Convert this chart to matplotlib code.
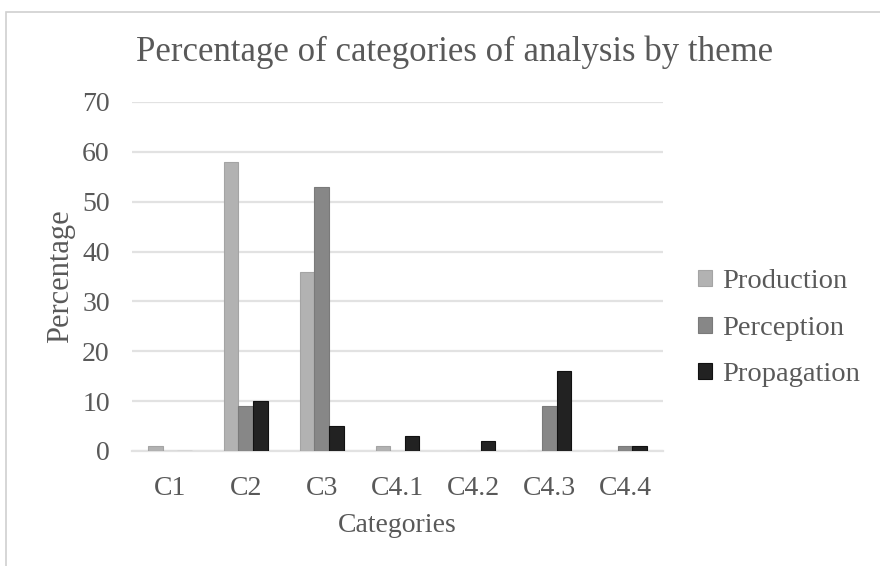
import matplotlib.pyplot as plt
import numpy as np
from matplotlib.patches import Rectangle

plt.rcParams["font.family"] = ["Liberation Serif", "DejaVu Serif"]

categories = ["C1", "C2", "C3", "C4.1", "C4.2", "C4.3", "C4.4"]
production = [1, 58, 36, 1, 0, 0, 0]
perception = [0, 9, 53, 0, 0, 9, 1]
propagation = [0, 10, 5, 3, 2, 16, 1]

series = [
    ("Production", production, "#b2b2b2", "#a4a4a4"),
    ("Perception", perception, "#878787", "#7a7a7a"),
    ("Propagation", propagation, "#222222", "#111111"),
]

text_color = "#595959"
grid_color = "#e2e2e2"

fig = plt.figure(figsize=(8.8, 5.66), dpi=100)
ax = fig.add_axes([0.15, 0.2032, 0.6034, 0.6166])

# outer chart frame
fig.patches.append(Rectangle((6 / 880, -0.05), 1.1, 1.05 - 12 / 566,
                             transform=fig.transFigure, fill=False,
                             edgecolor="#d0d0d0", linewidth=1.2))

x = np.arange(len(categories))
width = 0.193
for i, (name, vals, color, edge) in enumerate(series):
    ax.bar(x + (i - 1) * width, vals, width, color=color, edgecolor=edge,
           linewidth=0.8, label=name, zorder=3)

ax.set_xlim(-0.5, len(categories) - 0.5)
ax.set_ylim(0, 70)
ax.set_yticks(range(0, 71, 10))
ax.set_xticks(x)
ax.set_xticklabels(categories)
ax.yaxis.grid(True, color=grid_color, linewidth=1.6, zorder=0)
ax.set_axisbelow(True)

for side in ["top", "right", "left"]:
    ax.spines[side].set_visible(False)
ax.spines["bottom"].set_color(grid_color)
ax.spines["bottom"].set_linewidth(1.6)
ax.tick_params(length=0, labelsize=20, colors=text_color)
ax.tick_params(axis="x", pad=18)
ax.tick_params(axis="y", pad=16)

ax.set_xlabel("Categories", fontsize=20, color=text_color, labelpad=9)
ax.set_ylabel("Percentage", fontsize=22, color=text_color, labelpad=5)
fig.text(0.516, 0.908, "Percentage of categories of analysis by theme",
         ha="center", va="center", fontsize=25, color=text_color)

leg = fig.legend(loc="center left", bbox_to_anchor=(0.764, 0.42),
                 frameon=False, fontsize=20.5, handlelength=0.5,
                 handleheight=0.5, handletextpad=0.35, labelspacing=0.76,
                 labelcolor=text_color)

fig.savefig("out.png", dpi=100)
